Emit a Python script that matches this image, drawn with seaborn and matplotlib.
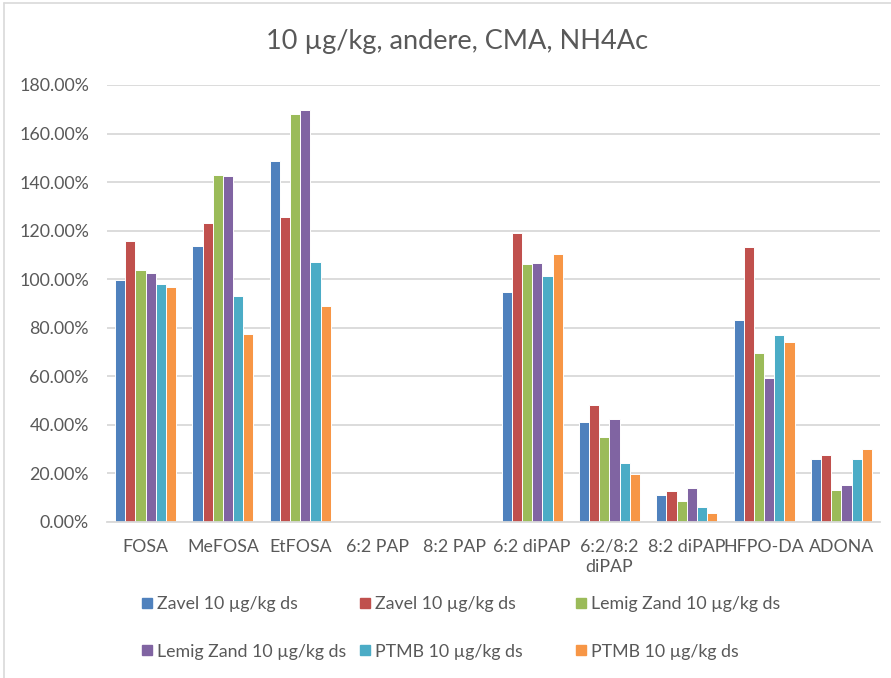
import numpy as np
import pandas as pd
import matplotlib
matplotlib.use("Agg")
import matplotlib.pyplot as plt
from matplotlib.lines import Line2D
from matplotlib.ticker import FuncFormatter
import seaborn as sns

# Recoveries (%) per compound, one list per sample series
stoffen = ["FOSA", "MeFOSA", "EtFOSA", "6:2 PAP", "8:2 PAP", "6:2 diPAP",
           "6:2/8:2\ndiPAP", "8:2 diPAP", "HFPO-DA", "ADONA"]

zavel_1 = [99.7, 113.6, 148.8, np.nan, np.nan, 94.7, 41.0, 11.0, 83.2, 25.8]
zavel_2 = [115.6, 123.0, 125.8, np.nan, np.nan, 119.2, 48.0, 12.8, 113.1, 27.5]
lemig_1 = [104.0, 143.1, 167.9, np.nan, np.nan, 106.3, 34.9, 8.8, 69.6, 13.2]
lemig_2 = [102.7, 142.5, 169.5, np.nan, np.nan, 106.7, 42.5, 14.2, 59.2, 15.4]
ptmb_1 = [97.9, 93.1, 107.0, np.nan, np.nan, 101.4, 24.5, 6.2, 77.0, 25.8]
ptmb_2 = [97.0, 77.5, 88.9, np.nan, np.nan, 110.2, 19.7, 3.7, 74.1, 30.2]

reeks_namen = ["Zavel 10 µg/kg ds", "Zavel 10 µg/kg ds",
               "Lemig Zand 10 µg/kg ds", "Lemig Zand 10 µg/kg ds",
               "PTMB 10 µg/kg ds", "PTMB 10 µg/kg ds"]
reeks_waarden = [zavel_1, zavel_2, lemig_1, lemig_2, ptmb_1, ptmb_2]
kleuren = ["#4F81BD", "#C0504D", "#9BBB59", "#8064A2", "#4BACC6", "#F79646"]

titel = "10 µg/kg, andere, CMA, NH4Ac"
y_ticks = [0, 20, 40, 60, 80, 100, 120, 140, 160, 180]

# long-form table for seaborn
rows = []
for i, waarden in enumerate(reeks_waarden):
    for stof, w in zip(stoffen, waarden):
        rows.append({"stof": stof, "reeks": i, "waarde": w})
df = pd.DataFrame(rows)

sns.set_theme(style="white")
plt.rcParams["font.family"] = ["Lato", "DejaVu Sans"]
tekst_kleur = "#595959"
W, H = 891, 678

fig = plt.figure(figsize=(W / 100, H / 100), dpi=100)
ax = fig.add_axes([107 / W, 1 - 522 / H, (880 - 107) / W, (522 - 85) / H])

sns.barplot(data=df, x="stof", y="waarde", hue="reeks", order=stoffen,
            hue_order=list(range(6)), palette=kleuren, width=0.79,
            errorbar=None, legend=False, saturation=1, ax=ax,
            edgecolor="white", linewidth=0.7)

ax.set_ylim(0, 180)
ax.set_xlim(-0.5, len(stoffen) - 0.5)
ax.set_yticks(y_ticks)
ax.yaxis.set_major_formatter(FuncFormatter(lambda v, p: f"{v:.2f}%"))
ax.grid(axis="y", color="#D9D9D9", linewidth=1.3)
ax.set_axisbelow(True)
for s in ["top", "right", "left"]:
    ax.spines[s].set_visible(False)
ax.spines["bottom"].set_color("#D9D9D9")
ax.spines["bottom"].set_linewidth(1.3)
ax.tick_params(axis="both", length=0, labelsize=12.8, colors=tekst_kleur)
ax.tick_params(axis="y", pad=13)
ax.tick_params(axis="x", pad=12)
for lbl in ax.get_xticklabels():
    lbl.set_linespacing(1.3)
ax.set_xlabel("")
ax.set_ylabel("")

fig.text(457 / W, 1 - 42 / H, titel, ha="center", va="center",
         fontsize=19.5, color=tekst_kleur)

# legend: three equally spaced columns of two rows each
handles = [Line2D([0], [0], marker="s", linestyle="none", markersize=7.5,
                  markerfacecolor=c, markeredgecolor=c) for c in kleuren]
kolom_x = [142, 360, 576]
for k, x in enumerate(kolom_x):
    idx = [k, k + 3]
    leg = fig.legend([handles[i] for i in idx], [reeks_namen[i] for i in idx],
                     ncol=1, loc="center left", bbox_to_anchor=(x / W, 1 - 628 / H),
                     frameon=False, fontsize=12.8, labelcolor=tekst_kleur,
                     handlelength=0.6, handletextpad=0.25, borderpad=0,
                     borderaxespad=0, labelspacing=1.75)

# chart frame
fig.add_artist(Line2D([4 / W, 4 / W], [0, 1 - 3 / H], transform=fig.transFigure,
                      color="#D9D9D9", linewidth=1.2))
fig.add_artist(Line2D([4 / W, 1], [1 - 3 / H, 1 - 3 / H], transform=fig.transFigure,
                      color="#D9D9D9", linewidth=1.2))

fig.savefig("out.png", dpi=100)
